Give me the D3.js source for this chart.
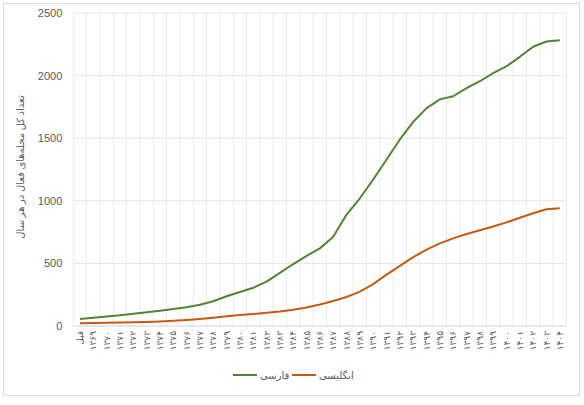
<!DOCTYPE html>
<html>
<head>
<meta charset="utf-8">
<script src="https://cdn.jsdelivr.net/npm/d3@7"></script>
<style>
  body { margin: 0; background: #fff; }
  text { font-family: "Liberation Sans", "DejaVu Sans", sans-serif; fill: #595959; }
  .fa { font-family: "Noto Sans", "DejaVu Sans", sans-serif; }
</style>
</head>
<body>
<div id="chart"></div>
<script>
// categories (x axis)
var years = ["قبل", "۱۳۶۹", "۱۳۷۰", "۱۳۷۱", "۱۳۷۲", "۱۳۷۳", "۱۳۷۴", "۱۳۷۵", "۱۳۷۶", "۱۳۷۷",
    "۱۳۷۸", "۱۳۷۹", "۱۳۸۰", "۱۳۸۱", "۱۳۸۲", "۱۳۸۳", "۱۳۸۴", "۱۳۸۵", "۱۳۸۶", "۱۳۸۷",
    "۱۳۸۸", "۱۳۸۹", "۱۳۹۰", "۱۳۹۱", "۱۳۹۲", "۱۳۹۳", "۱۳۹۴", "۱۳۹۵", "۱۳۹۶", "۱۳۹۷",
    "۱۳۹۸", "۱۳۹۹", "۱۴۰۰", "۱۴۰۱", "۱۴۰۲", "۱۴۰۳", "۱۴۰۴"];

// series values
var farsi = [56, 65, 75, 85, 98, 110, 122, 136, 150, 170,
    198, 238, 272, 305, 355, 425, 495, 560, 620, 712,
    890, 1020, 1170, 1330, 1490, 1630, 1740, 1810, 1835, 1900,
    1955, 2020, 2075, 2150, 2230, 2272, 2282];

var english = [22, 23, 25, 27, 29, 32, 36, 42, 48, 56,
    66, 78, 88, 96, 106, 116, 130, 148, 172, 200,
    232, 275, 335, 410, 480, 550, 610, 660, 700, 735,
    765, 795, 828, 865, 900, 932, 940];

var yTicks = [0, 500, 1000, 1500, 2000, 2500];

var seriesNames = ["فارسی", "انگلیسی"];
var seriesColors = ["#548235", "#C55A11"];

var svgWidth = 584;
var svgHeight = 405;

var margin = { top: 13, right: 17.5, bottom: 79, left: 73.3 };
var width = svgWidth - margin.left - margin.right;
var height = svgHeight - margin.top - margin.bottom;

var svg = d3.select("#chart")
    .append("svg")
    .attr("width", svgWidth)
    .attr("height", svgHeight);

// chart area border
svg.append("rect")
    .attr("x", 3.5)
    .attr("y", 3.5)
    .attr("width", svgWidth - 8)
    .attr("height", 392)
    .attr("fill", "none")
    .attr("stroke", "#d9d9d9");

var chartGroup = svg.append("g")
    .attr("transform", `translate(${margin.left}, ${margin.top})`);

var xScale = d3.scaleBand()
    .domain(years)
    .range([0, width]);

var yScale = d3.scaleLinear()
    .domain([0, 2500])
    .range([height, 0]);

// vertical gridlines between categories
chartGroup.selectAll(".vgrid")
    .data(years)
    .enter()
    .append("line")
    .attr("class", "vgrid")
    .attr("x1", d => xScale(d) + xScale.bandwidth())
    .attr("x2", d => xScale(d) + xScale.bandwidth())
    .attr("y1", 0)
    .attr("y2", height)
    .attr("stroke", "#ececec")
    .attr("stroke-width", 1);

chartGroup.append("line")
    .attr("x1", 0).attr("x2", 0)
    .attr("y1", 0).attr("y2", height)
    .attr("stroke", "#ececec");

// horizontal gridlines
chartGroup.selectAll(".hgrid")
    .data(yTicks)
    .enter()
    .append("line")
    .attr("class", "hgrid")
    .attr("x1", 0)
    .attr("x2", width)
    .attr("y1", d => yScale(d))
    .attr("y2", d => yScale(d))
    .attr("stroke", d => d === 0 ? "#d0d0d0" : "#e3e3e3");

// y axis labels
var yAxis = d3.axisLeft(yScale)
    .tickValues(yTicks)
    .tickFormat(d3.format("d"))
    .tickSize(0)
    .tickPadding(11);
chartGroup.append("g")
    .call(yAxis)
    .call(g => g.select(".domain").remove())
    .selectAll("text")
    .style("font-size", "11px")
    .style("fill", "#595959");

// x axis labels, rotated
var xAxis = d3.axisBottom(xScale).tickSize(0).tickPadding(0);
chartGroup.append("g")
    .attr("transform", `translate(0, ${height})`)
    .call(xAxis)
    .call(g => g.select(".domain").remove())
    .selectAll("text")
    .attr("class", "fa")
    .attr("transform", "translate(0, 5) rotate(-90)")
    .attr("x", 0)
    .attr("y", 0)
    .attr("dy", "0.35em")
    .style("text-anchor", "end")
    .style("font-size", "9px")
    .style("fill", "#595959");

// lines
var line = d3.line()
    .x((d, i) => xScale(years[i]) + xScale.bandwidth() / 2)
    .y(d => yScale(d));

[farsi, english].forEach(function(values, k) {
    chartGroup.append("path")
        .datum(values)
        .attr("fill", "none")
        .attr("stroke", seriesColors[k])
        .attr("stroke-width", 2)
        .attr("stroke-linejoin", "round")
        .attr("d", line);
});

// y axis title
svg.append("text")
    .attr("class", "fa")
    .attr("transform", "translate(20, 167) rotate(-90)")
    .attr("dy", "0.35em")
    .style("text-anchor", "middle")
    .style("font-size", "10px")
    .text("تعداد کل مجله‌های فعال در هر سال");

// legend
var legendX = [233, 292];
var legend = svg.selectAll(".legend")
    .data(seriesNames)
    .enter()
    .append("g")
    .attr("class", "legend")
    .attr("transform", (d, i) => `translate(${legendX[i]}, 375)`);

legend.append("line")
    .attr("x1", 0).attr("x2", 24)
    .attr("y1", 0).attr("y2", 0)
    .attr("stroke", (d, i) => seriesColors[i])
    .attr("stroke-width", 2);

legend.append("text")
    .attr("class", "fa")
    .attr("x", 27)
    .attr("dy", "0.35em")
    .attr("direction", "rtl")
    .style("text-anchor", "end")
    .style("font-size", "10px")
    .text(d => d);
</script>
</body>
</html>
